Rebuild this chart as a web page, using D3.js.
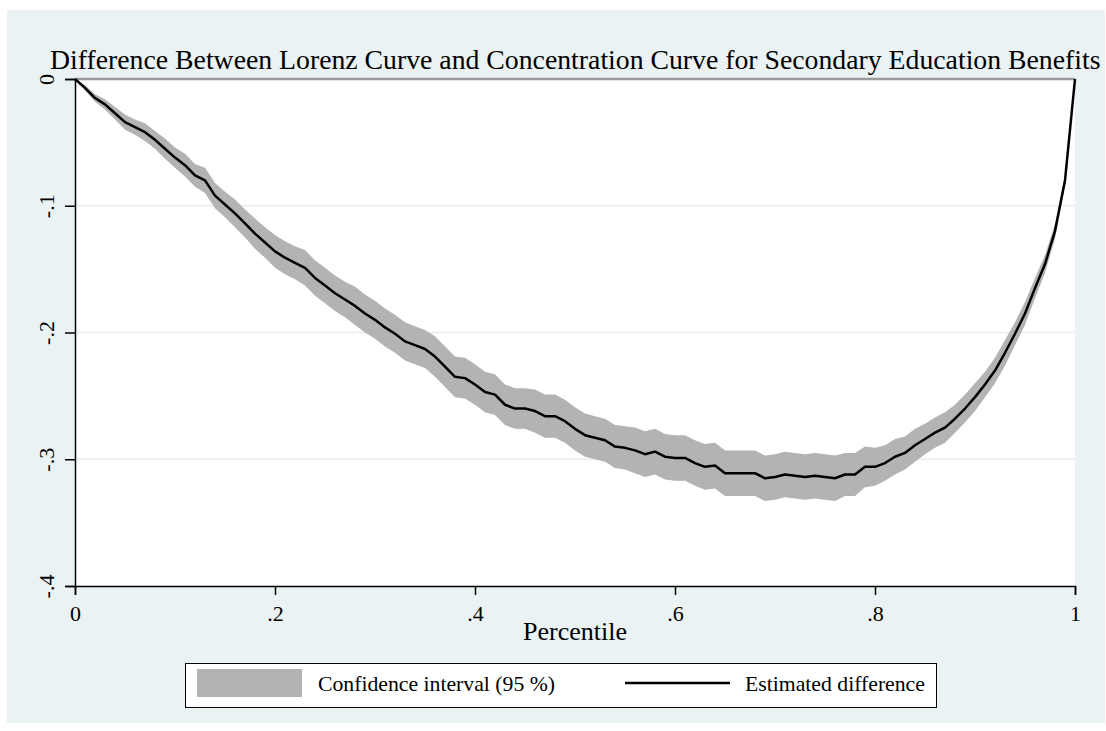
<!DOCTYPE html>
<html>
<head>
<meta charset="utf-8">
<script src="https://cdn.jsdelivr.net/npm/d3@7"></script>
<style>
    body { margin: 0; background: #ffffff; }
    #chart { width: 1106px; height: 731px; }
    text { font-family: 'Liberation Serif', 'Times New Roman', serif; fill: #000; }
</style>
</head>
<body>
<div id="chart"></div>
<script>
//Datos
const percentiles = [0,0.01,0.02,0.03,0.04,0.05,0.06,0.07,0.08,0.09,
    0.1,0.11,0.12,0.13,0.14,0.15,0.16,0.17,0.18,0.19,
    0.2,0.21,0.22,0.23,0.24,0.25,0.26,0.27,0.28,0.29,
    0.3,0.31,0.32,0.33,0.34,0.35,0.36,0.37,0.38,0.39,
    0.4,0.41,0.42,0.43,0.44,0.45,0.46,0.47,0.48,0.49,
    0.5,0.51,0.52,0.53,0.54,0.55,0.56,0.57,0.58,0.59,
    0.6,0.61,0.62,0.63,0.64,0.65,0.66,0.67,0.68,0.69,
    0.7,0.71,0.72,0.73,0.74,0.75,0.76,0.77,0.78,0.79,
    0.8,0.81,0.82,0.83,0.84,0.85,0.86,0.87,0.88,0.89,
    0.9,0.91,0.92,0.93,0.94,0.95,0.96,0.97,0.98,0.99,1];

const estimated = [0,-0.007,-0.015,-0.020,-0.027,-0.034,-0.038,-0.042,-0.048,-0.055,
    -0.062,-0.068,-0.076,-0.080,-0.092,-0.099,-0.106,-0.114,-0.122,-0.129,
    -0.136,-0.141,-0.145,-0.149,-0.157,-0.163,-0.169,-0.174,-0.179,-0.185,
    -0.190,-0.196,-0.201,-0.207,-0.210,-0.213,-0.219,-0.227,-0.235,-0.236,
    -0.241,-0.247,-0.249,-0.257,-0.260,-0.260,-0.262,-0.266,-0.266,-0.270,
    -0.276,-0.281,-0.283,-0.285,-0.290,-0.291,-0.293,-0.296,-0.294,-0.298,
    -0.299,-0.299,-0.303,-0.306,-0.305,-0.311,-0.311,-0.311,-0.311,-0.315,
    -0.314,-0.312,-0.313,-0.314,-0.313,-0.314,-0.315,-0.312,-0.312,-0.306,
    -0.306,-0.303,-0.298,-0.295,-0.289,-0.284,-0.279,-0.275,-0.268,-0.260,
    -0.251,-0.241,-0.230,-0.216,-0.201,-0.185,-0.165,-0.146,-0.120,-0.080,0];

const ciHigh = [0,-0.005,-0.012,-0.016,-0.022,-0.028,-0.032,-0.035,-0.041,-0.047,
    -0.054,-0.059,-0.067,-0.070,-0.082,-0.089,-0.095,-0.103,-0.110,-0.117,
    -0.123,-0.128,-0.132,-0.135,-0.143,-0.149,-0.155,-0.160,-0.164,-0.170,
    -0.175,-0.181,-0.186,-0.192,-0.195,-0.198,-0.203,-0.211,-0.219,-0.220,
    -0.225,-0.231,-0.233,-0.241,-0.244,-0.244,-0.245,-0.249,-0.249,-0.253,
    -0.259,-0.264,-0.266,-0.268,-0.273,-0.274,-0.275,-0.278,-0.276,-0.280,
    -0.281,-0.281,-0.285,-0.288,-0.287,-0.293,-0.293,-0.293,-0.293,-0.297,
    -0.296,-0.294,-0.295,-0.296,-0.295,-0.296,-0.297,-0.295,-0.295,-0.290,
    -0.291,-0.289,-0.284,-0.282,-0.276,-0.272,-0.267,-0.263,-0.257,-0.249,
    -0.240,-0.231,-0.220,-0.206,-0.192,-0.176,-0.157,-0.139,-0.114,-0.076,0];

const ciLow = [0,-0.009,-0.018,-0.024,-0.032,-0.040,-0.044,-0.049,-0.055,-0.063,
    -0.070,-0.077,-0.085,-0.090,-0.102,-0.109,-0.117,-0.125,-0.134,-0.141,
    -0.149,-0.154,-0.158,-0.163,-0.171,-0.177,-0.183,-0.188,-0.194,-0.200,
    -0.205,-0.211,-0.216,-0.222,-0.225,-0.228,-0.235,-0.243,-0.251,-0.252,
    -0.257,-0.263,-0.265,-0.273,-0.276,-0.276,-0.279,-0.283,-0.283,-0.287,
    -0.293,-0.298,-0.300,-0.302,-0.307,-0.308,-0.311,-0.314,-0.312,-0.316,
    -0.317,-0.317,-0.321,-0.324,-0.323,-0.329,-0.329,-0.329,-0.329,-0.333,
    -0.332,-0.330,-0.331,-0.332,-0.331,-0.332,-0.333,-0.329,-0.329,-0.322,
    -0.321,-0.317,-0.312,-0.308,-0.302,-0.296,-0.291,-0.287,-0.279,-0.271,
    -0.262,-0.251,-0.240,-0.226,-0.210,-0.194,-0.173,-0.153,-0.126,-0.084,0];

const xTicks = [0, 0.2, 0.4, 0.6, 0.8, 1];
const xTickLabels = ['0', '.2', '.4', '.6', '.8', '1'];
const yTicks = [0, -0.1, -0.2, -0.3, -0.4];
const yTickLabels = ['0', '-.1', '-.2', '-.3', '-.4'];
const legendLabels = ['Confidence interval (95 %)', 'Estimated difference'];

//Colores fijos
const COLOR_BG = '#eaf2f3',
COLOR_BAND = '#b3b3b3',
COLOR_ZERO = '#9a9a9a';

let data = percentiles.map(function(p, i) {
    return { p: p, est: estimated[i], lo: ciLow[i], hi: ciHigh[i] };
});

//Ajusta el tamaño de letra para que el texto ocupe un ancho dado
function fitText(sel, targetWidth) {
    let size = parseFloat(sel.attr('font-size'));
    let w = sel.node().getComputedTextLength();
    sel.attr('font-size', (size * targetWidth / w).toFixed(2));
}

let margin = {top: 79, right: 31, bottom: 145, left: 75},
    width = 1106 - margin.left - margin.right,
    height = 731 - margin.top - margin.bottom;

let svgRoot = d3.select('#chart')
    .append('svg')
    .attr('width', 1106)
    .attr('height', 731);

//Fondo del gráfico
svgRoot.append('rect')
    .attr('x', 7).attr('y', 10)
    .attr('width', 1098).attr('height', 713)
    .attr('fill', COLOR_BG);

let svg = svgRoot.append('g')
    .attr('transform', 'translate(' + margin.left + ',' + margin.top + ')');

let x = d3.scaleLinear().domain([0, 1]).range([0, width]);
let y = d3.scaleLinear().domain([-0.4, 0]).range([height, 0]);

//Área del gráfico
svg.append('rect')
    .attr('width', width)
    .attr('height', height)
    .attr('fill', '#ffffff');

//Líneas de rejilla
svg.selectAll('.grid')
    .data(yTicks.filter(d => d < 0 && d > -0.4))
    .enter()
    .append('line')
    .attr('class', 'grid')
    .attr('x1', 0).attr('x2', width)
    .attr('y1', d => y(d)).attr('y2', d => y(d))
    .attr('stroke', COLOR_BG)
    .attr('stroke-width', 2);

//Banda de confianza
let area = d3.area()
    .x(d => x(d.p))
    .y0(d => y(d.lo))
    .y1(d => y(d.hi));

svg.append('path')
    .datum(data)
    .attr('d', area)
    .attr('fill', COLOR_BAND);

//Línea en cero
svg.append('line')
    .attr('x1', 0).attr('x2', width)
    .attr('y1', y(0)).attr('y2', y(0))
    .attr('stroke', COLOR_ZERO)
    .attr('stroke-width', 2.5);

//Diferencia estimada
let line = d3.line()
    .x(d => x(d.p))
    .y(d => y(d.est));

svg.append('path')
    .datum(data)
    .attr('d', line)
    .attr('fill', 'none')
    .attr('stroke', '#000')
    .attr('stroke-width', 2.5)
    .attr('stroke-linejoin', 'round');

//Ejes
let xAxis = svg.append('g')
    .attr('transform', 'translate(0,' + height + ')')
    .call(d3.axisBottom(x).tickValues(xTicks).tickSize(9).tickPadding(10)
        .tickFormat((d, i) => xTickLabels[i]));
xAxis.attr('font-family', null);
xAxis.select('.domain').attr('stroke-width', 1.5);
xAxis.selectAll('.tick line').attr('stroke-width', 1.5);
xAxis.selectAll('.tick text')
    .attr('font-size', 22);

let yAxis = svg.append('g')
    .call(d3.axisLeft(y).tickValues(yTicks).tickSize(10).tickPadding(8)
        .tickFormat((d, i) => yTickLabels[i]));
yAxis.attr('font-family', null);
yAxis.select('.domain').attr('stroke-width', 1.5);
yAxis.selectAll('.tick line').attr('stroke-width', 1.5);
yAxis.selectAll('.tick text')
    .attr('font-size', 22)
    .attr('text-anchor', 'middle')
    .attr('transform', 'rotate(-90)')
    .attr('x', 0)
    .attr('y', -29)
    .attr('dy', '0.35em');

//Título
let title = svgRoot.append('text')
    .attr('x', 50)
    .attr('y', 69)
    .attr('font-size', 25)
    .text('Difference Between Lorenz Curve and Concentration Curve for Secondary Education Benefits');
fitText(title, 1051);

//Título del eje X
let xTitle = svgRoot.append('text')
    .attr('x', 523)
    .attr('y', 640)
    .attr('font-size', 22)
    .text('Percentile');
fitText(xTitle, 104);

//Leyenda
let legend = svgRoot.append('g');

legend.append('rect')
    .attr('x', 185.5).attr('y', 663.5)
    .attr('width', 751).attr('height', 44)
    .attr('fill', '#ffffff')
    .attr('stroke', '#000')
    .attr('stroke-width', 1);

legend.append('rect')
    .attr('x', 197).attr('y', 669)
    .attr('width', 105).attr('height', 28)
    .attr('fill', COLOR_BAND);

let l1 = legend.append('text')
    .attr('x', 318).attr('y', 691)
    .attr('font-size', 21)
    .text(legendLabels[0]);
fitText(l1, 237);

legend.append('line')
    .attr('x1', 625).attr('x2', 730)
    .attr('y1', 683).attr('y2', 683)
    .attr('stroke', '#000')
    .attr('stroke-width', 2.5);

let l2 = legend.append('text')
    .attr('x', 745).attr('y', 691)
    .attr('font-size', 21)
    .text(legendLabels[1]);
fitText(l2, 180);
</script>
</body>
</html>
